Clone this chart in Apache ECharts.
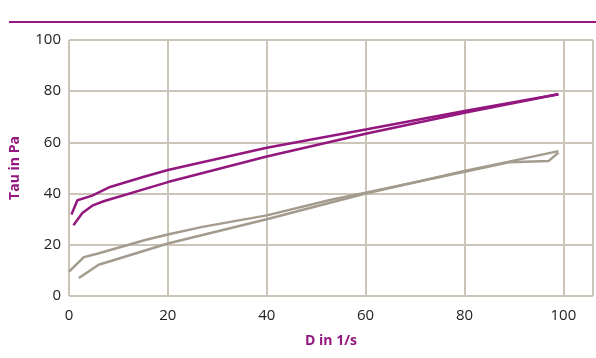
<!DOCTYPE html>
<html>
<head>
<meta charset="utf-8">
<script src="https://cdn.jsdelivr.net/npm/echarts@6/dist/echarts.min.js"></script>
<style>html,body{margin:0;padding:0;background:#fff}#c{width:596px;height:358px}</style>
</head>
<body>
<div id="c"></div>
<script>
const xTicks = [0, 20, 40, 60, 80, 100];
const yTicks = [0, 20, 40, 60, 80, 100];
const purpleUpper = [[0.5,31.8],[1.7,37.4],[4.7,39.2],[8.3,42.6],[15,46.5],[20,49.2],[40,57.9],[60,65.0],[80,72.3],[99,78.8]];
const purpleLower = [[0.9,27.6],[2.7,32.4],[4.7,35.3],[7,37.0],[20,44.5],[40,54.5],[60,63.4],[80,71.6],[99,78.8]];
const grayUpper = [[0,9.5],[3,15.2],[5.7,16.5],[15.6,22],[20,24],[27,27],[40,31.5],[53,37.6],[60,40.3],[80,48.5],[89,52.2],[97,52.7],[99,56.0]];
const grayLower = [[2,7],[6,12.2],[20,20.5],[40,30],[53,36.5],[60,40],[80,48.8],[89,52.5],[99,56.6]];

const purple = '#93177f';
const gray = '#a39c8e';
const gridCol = '#cbc4b8';

const chart = echarts.init(document.getElementById('c'));
const lineSeries = (data, color) => ({
  type: 'line', data: data, symbol: 'none', smooth: false,
  lineStyle: { color: color, width: 2.5 }, silent: true
});
chart.setOption({
  animation: false,
  graphic: [{ type: 'line', shape: { x1: 9, y1: 22, x2: 596, y2: 22 }, style: { stroke: purple, lineWidth: 2 } }],
  grid: { left: 65, right: 0, top: 40, bottom: 62, containLabel: false },
  xAxis: {
    type: 'value', min: 0, max: 106, interval: 20,
    name: 'D in 1/s', nameLocation: 'middle', nameGap: 38,
    nameTextStyle: { color: purple, fontWeight: 'bold', fontSize: 14, fontFamily: 'Open Sans' },
    axisLine: { show: false }, axisTick: { show: false },
    axisLabel: { color: '#222', fontSize: 15, margin: 12, fontFamily: 'Open Sans',
      formatter: v => xTicks.includes(v) ? String(v) : '' },
    splitLine: { show: true, lineStyle: { color: gridCol, width: 2 } }
  },
  yAxis: {
    type: 'value', min: 0, max: 100, interval: 20,
    name: 'Tau in Pa', nameLocation: 'middle', nameGap: 47,
    nameTextStyle: { color: purple, fontWeight: 'bold', fontSize: 14, fontFamily: 'Open Sans' },
    axisLine: { show: false }, axisTick: { show: false },
    axisLabel: { color: '#222', fontSize: 15, margin: 8, fontFamily: 'Open Sans',
      formatter: v => yTicks.includes(v) ? String(v) : '' },
    splitLine: { show: true, lineStyle: { color: gridCol, width: 2 } }
  },
  series: [
    lineSeries(grayUpper, gray),
    lineSeries(grayLower, gray),
    lineSeries(purpleUpper, purple),
    lineSeries(purpleLower, purple)
  ]
});
</script>
</body>
</html>
